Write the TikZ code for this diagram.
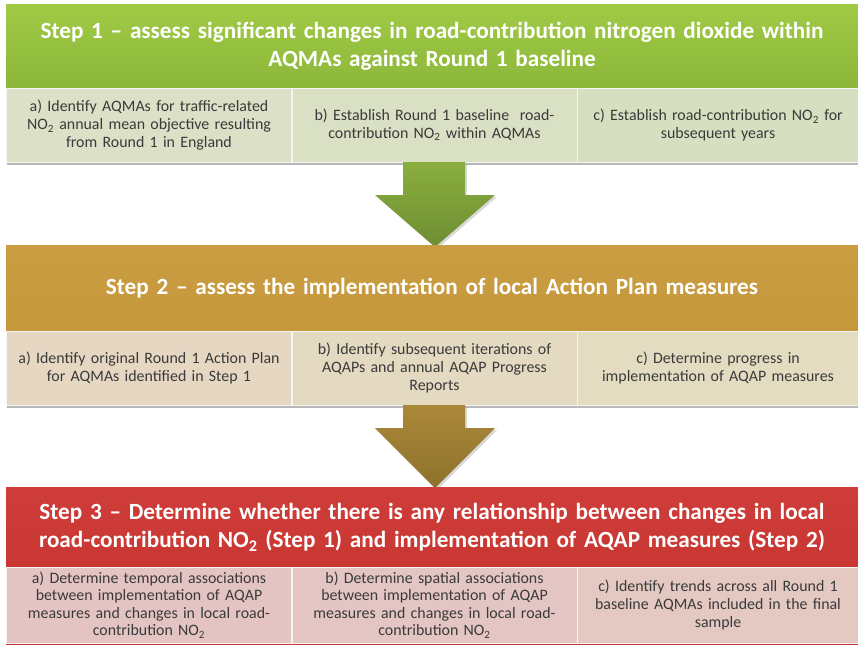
\documentclass[tikz,border=0pt]{standalone}
\usepackage{fontspec}
\setmainfont{Carlito}
\usetikzlibrary{shadows}
\definecolor{gAtop}{HTML}{A0CA45}
\definecolor{gAbot}{HTML}{8CB73A}
\definecolor{oAtop}{HTML}{CB9D42}
\definecolor{oAbot}{HTML}{C6983C}
\definecolor{rAtop}{HTML}{CE3D39}
\definecolor{rAbot}{HTML}{C93733}
\definecolor{ga}{HTML}{DCE0C7}
\definecolor{gb}{HTML}{D9E0C4}
\definecolor{gc}{HTML}{D6DFC0}
\definecolor{oa}{HTML}{E6D7C2}
\definecolor{ob}{HTML}{E4D9C1}
\definecolor{oc}{HTML}{E3DCC1}
\definecolor{ra}{HTML}{E4C4C2}
\definecolor{rb}{HTML}{E3C6C3}
\definecolor{rc}{HTML}{E4C9C3}
\definecolor{arrGtop}{HTML}{8AAE3E}
\definecolor{arrGbot}{HTML}{6E8E33}
\definecolor{arrOtop}{HTML}{AA883A}
\definecolor{arrObot}{HTML}{8E722B}
\definecolor{subtext}{HTML}{3A3A3A}
\newcommand{\NOtwo}{NO\textsubscript{2}}
\begin{document}
\begin{tikzpicture}[x=1pt,y=-1pt,
  hdr/.style={inner sep=0pt, minimum width=852pt, text width=840pt, align=center,
    text=white, font=\fontsize{23.2}{28}\selectfont\bfseries},
  subbox/.style={inner sep=0pt, minimum width=285pt, text width=282pt, align=center,
    text=subtext, draw=white!60!gray!20, line width=0.5pt, font=\fontsize{15.9}{17.6}\selectfont},
  rowshadow/.style={fill=black, opacity=0.28},
  arrowshape/.style={drop shadow={opacity=0.3, shadow xshift=2pt, shadow yshift=-2pt}}
]
\useasboundingbox (0,0) rectangle (858,645);

% ---------- Step 1 ----------
\node[hdr, minimum height=84pt, top color=gAtop, bottom color=gAbot] (s1) at (432,46)
  {Step 1 -- assess significant changes in road-contribution nitrogen dioxide within\\AQMAs against Round 1 baseline};
\fill[rowshadow] (7,90) rectangle (858,164.5);
\node[subbox, minimum height=74pt, fill=ga] (s1a) at (149,125)
  {a) Identify AQMAs for traffic-related\\\NOtwo{} annual mean objective resulting\\from Round 1 in England};
\node[subbox, minimum height=74pt, fill=gb] (s1b) at (434.5,125)
  {b) Establish Round 1 baseline~ road-\\contribution \NOtwo{} within AQMAs};
\node[subbox, minimum height=74pt, fill=gc, minimum width=281pt, text width=279pt] (s1c) at (718,125)
  {c) Establish road-contribution \NOtwo{} for\\subsequent years};

% ---------- Arrow 1 ----------
\path[arrowshape, top color=arrGtop, bottom color=arrGbot]
  (403,162) -- (465,162) -- (465,195) -- (495,195) -- (435,247) -- (375,195) -- (403,195) -- cycle;

% ---------- Step 2 ----------
\node[hdr, minimum height=86pt, top color=oAtop, bottom color=oAbot] (s2) at (432,288)
  {Step 2 -- assess the implementation of local Action Plan measures};
\fill[rowshadow] (7,333) rectangle (858,407.5);
\node[subbox, minimum height=74pt, fill=oa] (s2a) at (149,368)
  {a) Identify original Round 1 Action Plan\\for AQMAs identified in Step 1};
\node[subbox, minimum height=74pt, fill=ob] (s2b) at (434.5,368)
  {b) Identify subsequent iterations of\\AQAPs and annual AQAP Progress\\Reports};
\node[subbox, minimum height=74pt, fill=oc, minimum width=281pt, text width=279pt] (s2c) at (718,368)
  {c) Determine progress in\\implementation of AQAP measures};

% ---------- Arrow 2 ----------
\path[arrowshape, top color=arrOtop, bottom color=arrObot]
  (403,405) -- (465,405) -- (465,428) -- (495,428) -- (435,488) -- (375,428) -- (403,428) -- cycle;

% ---------- Step 3 ----------
\fill[rAbot] (6,487) rectangle (858,645);
\node[hdr, minimum height=80pt, top color=rAtop, bottom color=rAbot] (s3) at (432,527)
  {Step 3 -- Determine whether there is any relationship between changes in local\\road-contribution \NOtwo{} (Step 1) and implementation of AQAP measures (Step 2)};
\node[subbox, minimum height=76pt, fill=ra] (s3a) at (149,605)
  {a) Determine temporal associations\\between implementation of AQAP\\measures and changes in local road-\\contribution \NOtwo};
\node[subbox, minimum height=76pt, fill=rb] (s3b) at (434.5,605)
  {b) Determine spatial associations\\between implementation of AQAP\\measures and changes in local road-\\contribution \NOtwo};
\node[subbox, minimum height=76pt, fill=rc, minimum width=281pt, text width=279pt] (s3c) at (718,605)
  {c) Identify trends across all Round 1\\baseline AQMAs included in the final\\sample};
\end{tikzpicture}
\end{document}
